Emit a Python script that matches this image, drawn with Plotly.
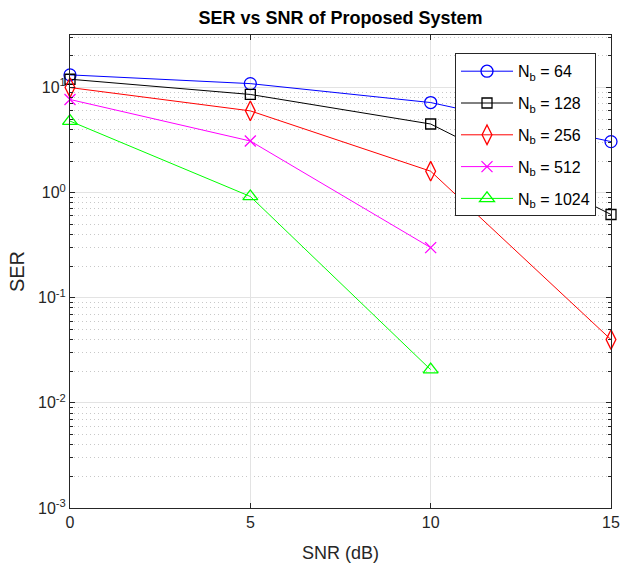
import plotly.graph_objects as go

snr = [0, 5, 10, 15]
ser_64 = [13.2, 10.9, 7.2, 3.06]
ser_128 = [12.0, 8.6, 4.5, 0.62]
ser_256 = [10.0, 6.0, 1.6, 0.040]
ser_512 = [7.7, 3.1, 0.30]
ser_1024 = [4.8, 0.92, 0.0207]

names = ["N<sub>b</sub> = 64", "N<sub>b</sub> = 128", "N<sub>b</sub> = 256",
         "N<sub>b</sub> = 512", "N<sub>b</sub> = 1024"]
series = [ser_64, ser_128, ser_256, ser_512, ser_1024]
colors = ["#0000ff", "#000000", "#ff0000", "#ff00ff", "#00ff00"]
symbols = ["circle-open", "square-open", "diamond-tall-open", "x-thin-open", "triangle-up-open"]
sizes = [12, 10, 14, 11, 13]

ytick_vals = [1e-3, 1e-2, 1e-1, 1e0, 1e1]
ytick_text = ["10<sup>-3</sup>", "10<sup>-2</sup>", "10<sup>-1</sup>", "10<sup>0</sup>", "10<sup>1</sup>"]
minor_vals = [m * 10 ** e for e in range(-3, 2) for m in range(2, 10)]
minor_vals = [v for v in minor_vals if v <= 31.6]

fig = go.Figure()
for i, (name, ys, c, s, sz) in enumerate(zip(names, series, colors, symbols, sizes)):
    fig.add_trace(go.Scatter(
        x=snr[:len(ys)], y=ys, name=name, mode="lines+markers",
        legendgroup="g%d" % i, cliponaxis=False,
        line=dict(color=c, width=1),
        marker=dict(symbol=s, size=sz, color=c, line=dict(color=c, width=1.3)),
    ))

axis_color = "#262626"
L, R, T, B = 70, 11, 35, 60
pw, ph = 622 - L - R, 568 - T - B
fig.update_layout(
    width=622, height=568,
    margin=dict(l=L, r=R, t=T, b=B, autoexpand=False),
    paper_bgcolor="white", plot_bgcolor="white",
    font=dict(family="Liberation Sans, Arial, sans-serif", color=axis_color, size=16),
    title=dict(text="<b>SER vs SNR of Proposed System</b>", x=(L + pw / 2) / 622,
               xanchor="center", y=1 - 18 / 568, yanchor="middle",
               font=dict(size=18, color="#000000")),
    showlegend=True,
    legend=dict(x=(455 - L) / pw, y=(568 - B - 53.3) / ph, xanchor="left", yanchor="top",
                bgcolor="white", bordercolor="#262626", borderwidth=1,
                font=dict(size=16, color="#000000"), itemwidth=52,
                tracegroupgap=8),
)
fig.update_xaxes(
    range=[0, 15], tickvals=[0, 5, 10, 15], ticktext=["0", "5", "10", "15"],
    showline=True, linecolor=axis_color, linewidth=1, mirror="ticks",
    ticks="inside", ticklen=5, tickcolor=axis_color, automargin=False,
    showgrid=True, gridcolor="#e3e3e3", gridwidth=1, zeroline=False,
    title=dict(text="SNR (dB)", font=dict(size=18), standoff=16),
    tickfont=dict(size=16),
)
fig.update_yaxes(
    type="log", range=[-3, 1.5], tickvals=ytick_vals, ticktext=ytick_text,
    showline=True, linecolor=axis_color, linewidth=1, mirror="ticks",
    ticks="inside", ticklen=5, tickcolor=axis_color, automargin=False,
    showgrid=True, gridcolor="#e3e3e3", gridwidth=1, zeroline=False,
    minor=dict(tickmode="array", tickvals=minor_vals, ticks="inside", ticklen=3,
               tickcolor=axis_color, showgrid=True, gridcolor="#c8c8c8",
               griddash="1px,3px", gridwidth=1),
    title=dict(text="SER", font=dict(size=20), standoff=8),
    tickfont=dict(size=16),
)
fig.write_html("out.html")
